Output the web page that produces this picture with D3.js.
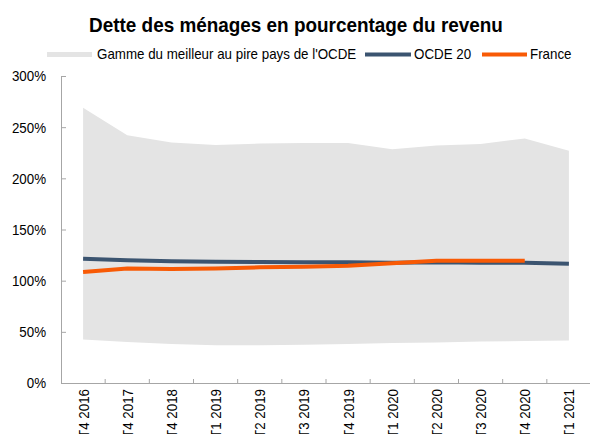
<!DOCTYPE html>
<html>
<head>
<meta charset="utf-8">
<script src="https://cdn.jsdelivr.net/npm/d3@7"></script>
<style>
  body { margin: 0; background: #fff; }
  svg { display: block; font-family: "Liberation Sans", Arial, sans-serif; }
</style>
</head>
<body>
<svg id="chart" width="590" height="434"></svg>
<script>
// quarters on the x axis
var quarters = ["T4 2016", "T4 2017", "T4 2018", "T1 2019", "T2 2019", "T3 2019",
  "T4 2019", "T1 2020", "T2 2020", "T3 2020", "T4 2020", "T1 2021"];
// range best / worst OECD country (% of income)
var rangeHigh = [269, 242, 235, 232.5, 234, 234.5, 234.5, 228.5, 232, 233.5, 239, 227];
var rangeLow = [42.5, 40, 38, 37, 37, 37.5, 38, 39, 39.5, 40.5, 41, 41.5];
// OCDE 20 average
var ocde = [121.5, 120, 119, 118.5, 118.2, 118, 118, 117.5, 118, 117.5, 117.5, 116.5];
// France (stops at T4 2020)
var france = [108.5, 112, 111.5, 112, 113, 113.5, 114.5, 117, 119.5, 119.5, 119.5];
var yTicks = [0, 50, 100, 150, 200, 250, 300];

var svg = d3.select("#chart");

//narrow font look
function condense(sel, k) {
  sel.each(function() {
    var w = this.getComputedTextLength();
    d3.select(this).attr("textLength", w * k).attr("lengthAdjust", "spacingAndGlyphs");
  });
}

var x = d3.scaleBand().domain(quarters).range([61, 591]).padding(0);
var y = d3.scaleLinear().domain([0, 300]).range([383, 76]);
var cx = function(i) { return x(quarters[i]) + x.bandwidth() / 2; };

//range area
var area = d3.area()
  .x(function(d, i) { return cx(i); })
  .y0(function(d, i) { return y(rangeLow[i]); })
  .y1(function(d) { return y(d); });

svg.append("path")
  .datum(rangeHigh)
  .attr("d", area)
  .attr("fill", "#e4e4e4");

var line = d3.line()
  .x(function(d, i) { return cx(i); })
  .y(function(d) { return y(d); });

svg.append("path")
  .datum(ocde)
  .attr("d", line)
  .attr("fill", "none")
  .attr("stroke", "#3b5470")
  .attr("stroke-width", 4);

svg.append("path")
  .datum(france)
  .attr("d", line)
  .attr("fill", "none")
  .attr("stroke", "#f85a05")
  .attr("stroke-width", 4);

//y axis
var yAxis = svg.append("g")
  .attr("transform", "translate(61,0)")
  .call(d3.axisLeft(y).tickValues(yTicks).tickSize(-5).tickPadding(15)
    .tickFormat(function(d) { return d + "%"; }));
yAxis.select(".domain").attr("stroke", "#a6a6a6");
yAxis.selectAll(".tick line").attr("stroke", "#a6a6a6");
yAxis.selectAll("text").attr("font-size", 15.5).attr("fill", "#000")
  .attr("font-family", "Liberation Sans, Arial, sans-serif");
condense(yAxis.selectAll("text"), 0.86);

//x axis
var xAxis = svg.append("g")
  .attr("transform", "translate(0,383)")
  .call(d3.axisBottom(x).tickSize(0).tickSizeOuter(0));
xAxis.select(".domain").attr("stroke", "#a6a6a6");
xAxis.selectAll("text")
  .attr("transform", "rotate(-90)")
  .attr("x", -6)
  .attr("y", 0)
  .attr("dy", "0.35em")
  .attr("text-anchor", "end")
  .attr("font-size", 15.5)
  .attr("fill", "#000")
  .attr("font-family", "Liberation Sans, Arial, sans-serif");
condense(xAxis.selectAll("text"), 0.86);

//tick marks between quarters
xAxis.selectAll(".sep")
  .data(quarters.slice(1))
  .enter()
  .append("line")
  .attr("class", "sep")
  .attr("x1", function(d) { return x(d); })
  .attr("x2", function(d) { return x(d); })
  .attr("y1", 0)
  .attr("y2", -4)
  .attr("stroke", "#a6a6a6");

//title
var title = svg.append("text")
  .attr("x", 296)
  .attr("y", 32)
  .attr("text-anchor", "middle")
  .attr("font-size", 21)
  .attr("font-weight", "bold")
  .attr("fill", "#000")
  .text("Dette des ménages en pourcentage du revenu");
condense(title, 0.9);

//legend
var legend = svg.append("g");
legend.append("rect")
  .attr("x", 47).attr("y", 52).attr("width", 45).attr("height", 5)
  .attr("fill", "#e4e4e4");
legend.append("line")
  .attr("x1", 365).attr("x2", 411).attr("y1", 54.5).attr("y2", 54.5)
  .attr("stroke", "#3b5470").attr("stroke-width", 4);
legend.append("line")
  .attr("x1", 482).attr("x2", 527).attr("y1", 54.5).attr("y2", 54.5)
  .attr("stroke", "#f85a05").attr("stroke-width", 4);

var legendItems = [
  { label: "Gamme du meilleur au pire pays de l'OCDE", x: 97 },
  { label: "OCDE 20", x: 414 },
  { label: "France", x: 530 }
];
var lt = legend.selectAll(".lt")
  .data(legendItems)
  .enter()
  .append("text")
  .attr("class", "lt")
  .attr("x", function(d) { return d.x; })
  .attr("y", 59)
  .attr("font-size", 15)
  .attr("fill", "#000")
  .text(function(d) { return d.label; });
condense(lt, 0.89);
</script>
</body>
</html>
